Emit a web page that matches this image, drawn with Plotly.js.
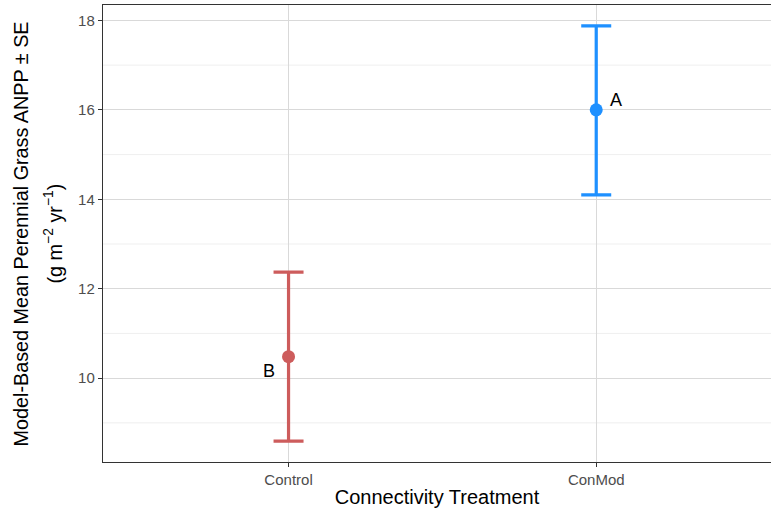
<!DOCTYPE html>
<html>
<head>
<meta charset="utf-8">
<script src="https://cdn.plot.ly/plotly-3.0.1.min.js"></script>
<style>html,body{margin:0;padding:0;background:#fff;}#chart{width:771px;height:512px;}</style>
</head>
<body>
<div id="chart"></div>
<script>
const treatments = ["Control", "ConMod"];
const means = [10.48, 16.0];
const upper = [12.37, 17.88];
const lower = [8.59, 14.10];
const letters = ["B", "A"];
const yTitleLines = ["Model-Based Mean Perennial Grass ANPP ± SE", "(g m<sup>−2</sup> yr<sup>−1</sup>)"];
const xTitle = "Connectivity Treatment";
const colors = ["#CD5C5C", "#1E90FF"];
const letterShift = [[-20, -14], [20, 10]];
const FONT = "Liberation Sans, Arial, sans-serif";

const traces = treatments.map((t, i) => ({
  type: "scatter",
  mode: "markers",
  x: [t],
  y: [means[i]],
  marker: {color: colors[i], size: 13},
  error_y: {
    type: "data",
    symmetric: false,
    array: [upper[i] - means[i]],
    arrayminus: [means[i] - lower[i]],
    color: colors[i],
    thickness: 3.2,
    width: 15
  },
  showlegend: false,
  hoverinfo: "skip"
}));

const annotations = treatments.map((t, i) => ({
  x: t, y: means[i], xref: "x", yref: "y",
  text: letters[i], showarrow: false,
  xshift: letterShift[i][0], yshift: letterShift[i][1],
  font: {family: FONT, size: 18, color: "#000"}
}));

// y-axis title as two rotated lines (wide line spacing as in reference)
const titleX = [-0.1228, -0.0749];
yTitleLines.forEach((txt, i) => {
  annotations.push({
    xref: "paper", yref: "paper", x: titleX[i], y: 0.5,
    xanchor: "center", yanchor: "middle",
    text: txt, textangle: -90, showarrow: false,
    font: {family: FONT, size: 19.8, color: "#000"}
  });
});

// minor grid lines at odd values
const minorVals = [9, 11, 13, 15, 17];
const shapes = minorVals.map(v => ({
  type: "line", xref: "paper", yref: "y", x0: 0, x1: 1, y0: v, y1: v,
  line: {color: "#EBEBEB", width: 0.8}, layer: "below"
}));

const layout = {
  width: 771, height: 512,
  margin: {l: 103, r: 0, t: 5, b: 50},
  paper_bgcolor: "#fff", plot_bgcolor: "#fff",
  font: {family: FONT, color: "#000"},
  xaxis: {
    type: "category",
    categoryorder: "array", categoryarray: treatments,
    range: [-0.603, 1.568],
    showgrid: true, gridcolor: "#D9D9D9", gridwidth: 1,
    showline: true, linecolor: "#333", linewidth: 1.2, mirror: true,
    ticks: "outside", ticklen: 4, tickcolor: "#333", tickwidth: 1,
    tickfont: {size: 15, color: "#4D4D4D"},
    title: {text: xTitle, font: {size: 20, color: "#000"}, standoff: 2},
    zeroline: false
  },
  yaxis: {
    range: [8.125, 18.345],
    tickvals: [10, 12, 14, 16, 18],
    showgrid: true, gridcolor: "#D9D9D9", gridwidth: 1,
    showline: true, linecolor: "#333", linewidth: 1.2, mirror: false,
    ticks: "outside", ticklen: 4, tickcolor: "#333", tickwidth: 1,
    tickfont: {size: 15, color: "#4D4D4D"},
    zeroline: false
  },
  shapes: shapes,
  annotations: annotations
};

Plotly.newPlot("chart", traces, layout, {displayModeBar: false, staticPlot: true});
</script>
</body>
</html>
